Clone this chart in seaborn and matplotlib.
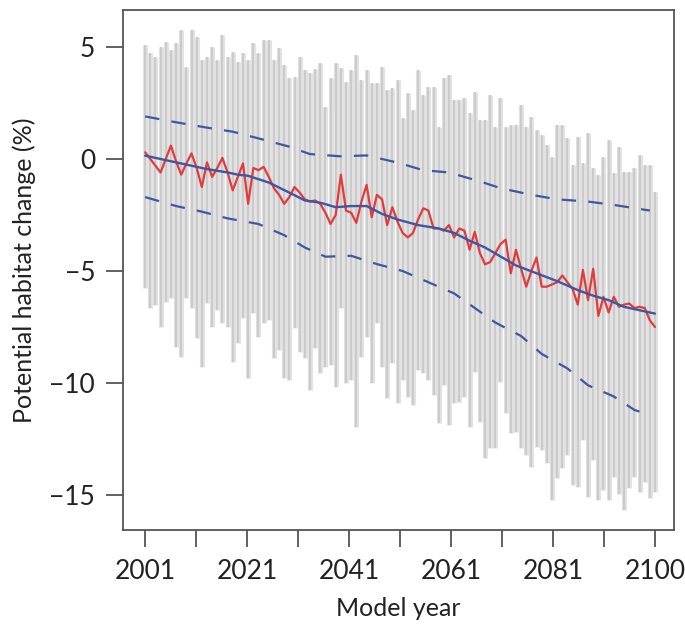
import numpy as np
import pandas as pd
import matplotlib
matplotlib.use("Agg")
import matplotlib.pyplot as plt
import seaborn as sns

# Data
years = list(range(2001, 2101))

# upper and lower end of the grey range bars, one per year
range_top = [5.09, 4.72, 4.57, 5.01, 5.24, 4.87, 5.16, 5.76, 4.12, 5.76,
             5.46, 4.42, 4.57, 5.01, 4.42, 5.54, 4.57, 4.79, 4.35, 4.72,
             4.42, 5.16, 4.72, 5.31, 5.31, 4.42, 4.94, 4.20, 3.60, 3.68,
             4.57, 3.97, 3.83, 4.00, 4.28, 2.34, 3.60, 4.28, 4.05, 3.45,
             3.97, 4.64, 3.53, 3.97, 3.38, 3.38, 4.12, 3.08, 3.16, 3.53,
             1.82, 2.93, 2.19, 3.97, 2.86, 3.23, 3.23, 1.44, 3.60, 3.75,
             2.63, 2.63, 2.71, 2.04, 3.00, 1.74, 1.74, 2.86, 1.44, 2.71,
             1.44, 1.52, 1.52, 2.41, 1.44, 1.89, 1.29, 1.07, 0.63, 0.10,
             1.52, 1.52, 0.92, -0.27, 1.00, -0.19, 1.15, -0.42, -0.71, 0.10,
             0.85, -0.64, 0.55, -0.57, -0.57, -0.42, 0.18, -0.27, -0.27, -1.46]
range_bottom = [-5.77, -6.67, -6.52, -7.49, -6.37, -6.22, -8.38, -8.82, -6.22, -6.67,
                -8.01, -9.27, -6.44, -7.49, -6.74, -7.34, -7.49, -9.05, -8.23, -7.11,
                -9.79, -6.89, -7.93, -7.34, -7.19, -8.90, -8.53, -9.79, -9.87, -7.56,
                -8.60, -8.90, -10.31, -8.45, -9.57, -9.27, -9.20, -10.16, -6.67, -10.01,
                -9.87, -11.95, -8.82, -7.93, -10.01, -7.34, -9.27, -10.68, -9.12, -10.91,
                -9.87, -10.61, -10.98, -9.42, -9.57, -9.87, -10.54, -11.80, -10.09, -11.88,
                -10.91, -10.83, -10.61, -11.95, -9.49, -11.73, -13.36, -12.92, -12.92, -9.94,
                -11.35, -12.25, -12.17, -12.92, -13.21, -13.73, -12.84, -12.99, -13.59, -15.22,
                -14.26, -13.81, -13.21, -14.55, -14.63, -12.54, -15.07, -13.44, -15.22, -14.78,
                -15.22, -14.18, -14.93, -15.67, -14.70, -14.18, -14.85, -14.40, -15.15, -14.85]

# annual mean (red)
annual_mean = [0.3, 0.0, -0.3, -0.6, 0.0, 0.6, -0.1, -0.7, -0.2, 0.25,
               -0.4, -1.25, -0.15, -0.8, -0.4, 0.05, -0.6, -1.4, -0.8, -0.2,
               -2.0, -0.4, -0.5, -0.35, -0.8, -1.3, -1.6, -2.0, -1.7, -1.25,
               -1.5, -1.8, -1.9, -1.85, -2.0, -2.4, -2.9, -2.5, -0.7, -2.3,
               -2.4, -2.85, -1.9, -1.15, -2.6, -1.6, -1.8, -2.95, -2.15, -2.8,
               -3.3, -3.5, -3.3, -2.7, -2.2, -2.3, -3.1, -3.1, -3.2, -2.95,
               -3.5, -3.1, -3.2, -4.05, -3.25, -4.2, -4.7, -4.6, -4.2, -3.8,
               -3.6, -5.1, -4.05, -4.9, -5.7, -5.0, -4.4, -5.7, -5.7, -5.6,
               -5.5, -5.2, -5.5, -5.8, -6.5, -4.95, -6.3, -4.9, -7.0, -6.15,
               -6.85, -6.15, -6.6, -6.5, -6.45, -6.65, -6.6, -6.65, -7.2, -7.5]

# smoothed trend (solid blue)
trend_years = [2001, 2005, 2009, 2013, 2017, 2019, 2021, 2025, 2029, 2032,
               2035, 2038, 2041, 2044, 2047, 2050, 2054, 2058, 2061, 2064,
               2067, 2070, 2073, 2077, 2081, 2085, 2088, 2091, 2094, 2097, 2100]
trend_vals = [0.15, -0.05, -0.25, -0.45, -0.6, -0.7, -0.75, -1.05, -1.5, -1.85,
              -1.95, -2.15, -2.1, -2.1, -2.45, -2.7, -2.95, -3.1, -3.3, -3.65,
              -3.95, -4.35, -4.75, -5.1, -5.45, -5.85, -6.1, -6.3, -6.6, -6.75, -6.9]

# upper / lower bounds (dashed blue)
upper_years = [2001, 2007, 2013, 2018, 2023, 2029, 2033, 2039, 2044, 2050,
               2055, 2060, 2063, 2066, 2070, 2076, 2081, 2087, 2092, 2099]
upper_vals = [1.9, 1.64, 1.4, 1.22, 0.92, 0.55, 0.22, 0.12, 0.16, -0.16,
              -0.5, -0.6, -0.8, -1.0, -1.3, -1.6, -1.8, -1.9, -2.05, -2.3]
lower_years = [2001, 2007, 2012, 2017, 2023, 2028, 2032, 2036, 2041, 2046,
               2051, 2056, 2061, 2065, 2069, 2074, 2078, 2083, 2087, 2092, 2096, 2098]
lower_vals = [-1.7, -2.1, -2.35, -2.65, -2.9, -3.4, -3.95, -4.36, -4.32, -4.69,
              -5.0, -5.5, -6.0, -6.65, -7.3, -7.9, -8.7, -9.35, -10.1, -10.6, -11.2, -11.35]

x_tick_labels = ["2001", "2021", "2041", "2061", "2081", "2100"]
y_ticks = [5, 0, -5, -10, -15]

sns.set_theme(style="white")
plt.rcParams['font.family'] = ['Lato', 'DejaVu Sans']

fig = plt.figure(figsize=(6.85, 6.3), dpi=100)
ax = fig.add_axes([0.1796, 0.1587, 0.8044, 0.8254])

# grey range bars: a wide pale band plus a darker core, so neighbours touch
ax.vlines(years, range_bottom, range_top, color="#e3e3e3", linewidth=3.7, zorder=1)
ax.vlines(years, range_bottom, range_top, color="#cbcbcb", linewidth=1.6, zorder=2)

dash = (0, (6.5, 5.5))
sns.lineplot(x=upper_years, y=upper_vals, ax=ax, color="#3d57a3", linewidth=1.6,
             linestyle=dash, zorder=3)
sns.lineplot(x=lower_years, y=lower_vals, ax=ax, color="#3d57a3", linewidth=1.6,
             linestyle=dash, zorder=3)
sns.lineplot(x=years, y=annual_mean, ax=ax, color="#e23b3b", linewidth=1.6, zorder=4)
sns.lineplot(x=trend_years, y=trend_vals, ax=ax, color="#3d57a3", linewidth=1.7, zorder=5)

ax.set_xlim(1996.7, 2103.7)
ax.set_ylim(-16.56, 6.65)

xt = np.linspace(2001, 2100, 11)
ax.set_xticks(xt)
ax.set_xticklabels([x_tick_labels[i // 2] if i % 2 == 0 else "" for i in range(11)])
ax.set_yticks(y_ticks)
ax.set_yticklabels([str(v).replace("-", "\u2212") for v in y_ticks])

ax.tick_params(axis="both", direction="out", length=12, width=1.3, color="#555555",
               labelsize=19, labelcolor="#222222", bottom=True, left=True)
ax.tick_params(axis="x", pad=9)
ax.tick_params(axis="y", pad=8)
for s in ax.spines.values():
    s.set_color("#555555")
    s.set_linewidth(1.3)

ax.set_xlabel("Model year", fontsize=18, color="#222222", labelpad=9)
ax.set_ylabel("Potential habitat change (%)", fontsize=18, color="#222222", labelpad=10)

fig.savefig("out.png", dpi=100)
